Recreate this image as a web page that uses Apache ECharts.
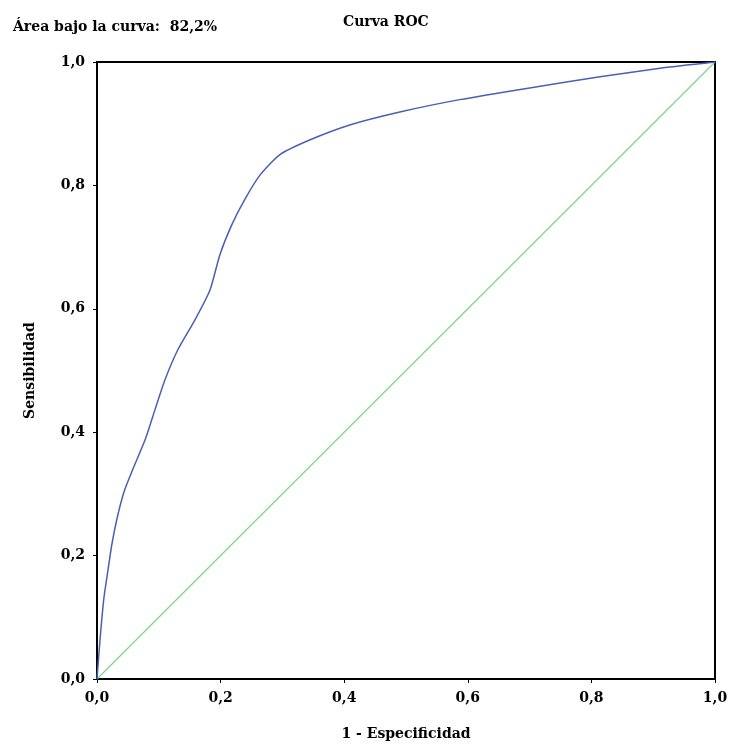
<!DOCTYPE html>
<html>
<head>
<meta charset="UTF-8">
<script src="https://cdn.jsdelivr.net/npm/echarts@6/dist/echarts.min.js"></script>
<style>html,body{margin:0;background:#fff}#chart{width:731px;height:746px}</style>
</head>
<body>
<div id="chart"></div>
<script>
// curva ROC
var rocX = [0, 0.005, 0.011, 0.018, 0.024, 0.034, 0.045, 0.058, 0.078, 0.094, 0.11, 0.131, 0.159, 0.183, 0.199, 0.218, 0.239, 0.264, 0.296, 0.345, 0.409, 0.49, 0.587, 0.7, 0.814, 0.911, 1];
var rocY = [0, 0.065, 0.13, 0.178, 0.218, 0.267, 0.307, 0.34, 0.388, 0.437, 0.485, 0.534, 0.583, 0.631, 0.688, 0.736, 0.777, 0.817, 0.85, 0.874, 0.898, 0.919, 0.939, 0.958, 0.976, 0.99, 1];
var refX = [0, 1];
var refY = [0, 1];

var font = 'DejaVu Serif';
function pairs(xs, ys){ return xs.map(function(v,i){ return [v, ys[i]]; }); }
function fmt(v){ return v.toFixed(1).replace('.', ','); }

var axisCommon = {
	type: 'value', min: 0, max: 1, interval: 0.2,
	axisLine: {show: true, lineStyle: {color: '#000', width: 2}},
	axisTick: {show: true, length: 4, lineStyle: {color: '#000'}},
	splitLine: {show: false},
	axisLabel: {color: '#000', fontFamily: font, fontWeight: 'bold', fontSize: 14, formatter: fmt, margin: 12},
	nameLocation: 'middle',
	nameTextStyle: {color: '#000', fontFamily: font, fontWeight: 'bold', fontSize: 14}
};

var chart = echarts.init(document.getElementById('chart'));
chart.setOption({
	animation: false,
	title: [
		{text: 'Curva ROC', left: 338, top: 10, textStyle: {fontFamily: font, fontWeight: 'bold', fontSize: 14, color: '#000'}},
		{text: 'Área bajo la curva:  82,2%', left: 8, top: 15, textStyle: {fontFamily: font, fontWeight: 'bold', fontSize: 14, color: '#000'}}
	],
	grid: {left: 97, right: 16, top: 62, bottom: 66, show: true, borderColor: '#000', borderWidth: 2},
	xAxis: Object.assign({}, axisCommon, {name: '1 - Especificidad', nameGap: 48}),
	yAxis: Object.assign({}, axisCommon, {name: 'Sensibilidad', nameGap: 60}),
	series: [
		{type: 'line', data: pairs(refX, refY), symbol: 'none', lineStyle: {color: '#7fd693', width: 1.3}},
		{type: 'line', data: pairs(rocX, rocY), symbol: 'none', smooth: 0.2, lineStyle: {color: '#4a5fb5', width: 1.5}}
	]
});
</script>
</body>
</html>
